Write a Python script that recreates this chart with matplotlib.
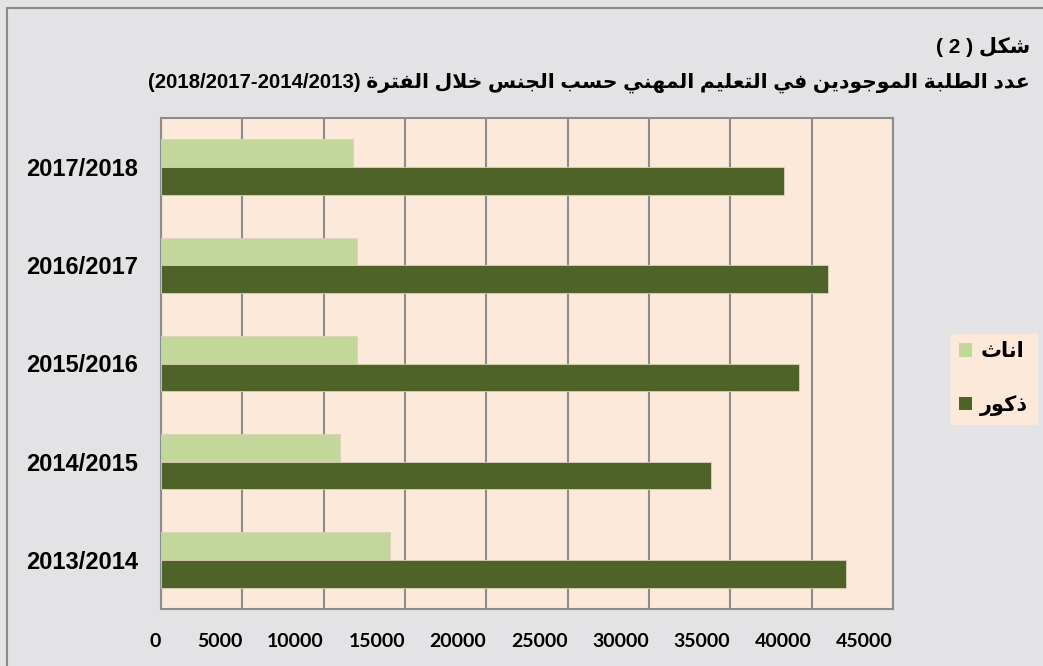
import matplotlib
matplotlib.use("Agg")
import matplotlib.pyplot as plt
from matplotlib.patches import Rectangle
import numpy as np

# ---------------- data ----------------
years = ["2013/2014", "2014/2015", "2015/2016", "2016/2017", "2017/2018"]
males = [42100, 33800, 39200, 41000, 38300]     # ذكور
females = [14050, 11000, 12050, 12050, 11800]   # اناث
xticks = [0, 5000, 10000, 15000, 20000, 25000, 30000, 35000, 40000, 45000]

title1_ar = "شكل"
title1_num = "( 2 )"
title2_ar = "عدد الطلبة الموجودين في التعليم المهني حسب الجنس خلال الفترة"
title2_num = "(2018/2017-2014/2013)"
label_f = "اناث"
label_m = "ذكور"

# ---------------- minimal Arabic shaping (visual order) ----------------
FORMS = {
    '\u0621': ('\uFE80',),
    '\u0622': ('\uFE81', '\uFE82'), '\u0623': ('\uFE83', '\uFE84'),
    '\u0624': ('\uFE85', '\uFE86'), '\u0625': ('\uFE87', '\uFE88'),
    '\u0626': ('\uFE89', '\uFE8A', '\uFE8B', '\uFE8C'),
    '\u0627': ('\uFE8D', '\uFE8E'),
    '\u0628': ('\uFE8F', '\uFE90', '\uFE91', '\uFE92'),
    '\u0629': ('\uFE93', '\uFE94'),
    '\u062A': ('\uFE95', '\uFE96', '\uFE97', '\uFE98'),
    '\u062B': ('\uFE99', '\uFE9A', '\uFE9B', '\uFE9C'),
    '\u062C': ('\uFE9D', '\uFE9E', '\uFE9F', '\uFEA0'),
    '\u062D': ('\uFEA1', '\uFEA2', '\uFEA3', '\uFEA4'),
    '\u062E': ('\uFEA5', '\uFEA6', '\uFEA7', '\uFEA8'),
    '\u062F': ('\uFEA9', '\uFEAA'), '\u0630': ('\uFEAB', '\uFEAC'),
    '\u0631': ('\uFEAD', '\uFEAE'), '\u0632': ('\uFEAF', '\uFEB0'),
    '\u0633': ('\uFEB1', '\uFEB2', '\uFEB3', '\uFEB4'),
    '\u0634': ('\uFEB5', '\uFEB6', '\uFEB7', '\uFEB8'),
    '\u0635': ('\uFEB9', '\uFEBA', '\uFEBB', '\uFEBC'),
    '\u0636': ('\uFEBD', '\uFEBE', '\uFEBF', '\uFEC0'),
    '\u0637': ('\uFEC1', '\uFEC2', '\uFEC3', '\uFEC4'),
    '\u0638': ('\uFEC5', '\uFEC6', '\uFEC7', '\uFEC8'),
    '\u0639': ('\uFEC9', '\uFECA', '\uFECB', '\uFECC'),
    '\u063A': ('\uFECD', '\uFECE', '\uFECF', '\uFED0'),
    '\u0641': ('\uFED1', '\uFED2', '\uFED3', '\uFED4'),
    '\u0642': ('\uFED5', '\uFED6', '\uFED7', '\uFED8'),
    '\u0643': ('\uFED9', '\uFEDA', '\uFEDB', '\uFEDC'),
    '\u0644': ('\uFEDD', '\uFEDE', '\uFEDF', '\uFEE0'),
    '\u0645': ('\uFEE1', '\uFEE2', '\uFEE3', '\uFEE4'),
    '\u0646': ('\uFEE5', '\uFEE6', '\uFEE7', '\uFEE8'),
    '\u0647': ('\uFEE9', '\uFEEA', '\uFEEB', '\uFEEC'),
    '\u0648': ('\uFEED', '\uFEEE'),
    '\u0649': ('\uFEEF', '\uFEF0'),
    '\u064A': ('\uFEF1', '\uFEF2', '\uFEF3', '\uFEF4'),
}
LAMALEF = {'\u0622': ('\uFEF5', '\uFEF6'), '\u0623': ('\uFEF7', '\uFEF8'),
           '\u0625': ('\uFEF9', '\uFEFA'), '\u0627': ('\uFEFB', '\uFEFC')}


def shape(text):
    res = []
    n = len(text)
    i = 0
    while i < n:
        c = text[i]
        prev = text[i - 1] if i > 0 else None
        joins_prev = prev is not None and prev in FORMS and len(FORMS[prev]) == 4
        if c == '\u0644' and i + 1 < n and text[i + 1] in LAMALEF:
            lig = LAMALEF[text[i + 1]]
            res.append(lig[1] if joins_prev else lig[0])
            i += 2
            continue
        if c not in FORMS:
            res.append(c)
            i += 1
            continue
        f = FORMS[c]
        if len(f) == 1:
            res.append(f[0])
            i += 1
            continue
        nxt = text[i + 1] if i + 1 < n else None
        joins_next = len(f) == 4 and nxt is not None and nxt in FORMS
        if joins_prev and joins_next:
            res.append(f[3])
        elif joins_prev:
            res.append(f[1])
        elif joins_next:
            res.append(f[2])
        else:
            res.append(f[0])
        i += 1
    return ''.join(res)


def visual(text):
    return shape(text)[::-1]


# ---------------- figure ----------------
W, H = 1043, 666
fig = plt.figure(figsize=(W / 100, H / 100), dpi=100)
fig.patch.set_facecolor('#e3e3e5')

# outer chart frame (extends past right/bottom edges like the reference crop)
fig.patches.append(Rectangle((7 / W, -0.05), 1.2, 1 - 8 / H + 0.05,
                             transform=fig.transFigure, fill=False,
                             edgecolor='#8a8a8a', linewidth=1.5))

ax = fig.add_axes([161 / W, 1 - 609 / H, (893 - 161) / W, (609 - 118) / H])
ax.set_facecolor('#fde9d9')

y = np.arange(len(years))
h = 0.283
c_f = '#c4d79b'
c_m = '#4f6228'
bf = ax.barh(y + h / 2, females, height=h, color=c_f, edgecolor='#d9d2b8', linewidth=0.6, zorder=3)
bm = ax.barh(y - h / 2, males, height=h, color=c_m, edgecolor='#d9d2b8', linewidth=0.6, zorder=3)

ax.set_xlim(0, 45000)
ax.set_ylim(-0.5, len(years) - 0.5)
ax.set_xticks(xticks)
ax.set_xticklabels([str(t) for t in xticks], fontfamily='Lato', fontweight='bold',
                   fontsize=14, ha='right')
ax.set_yticks(y)
ax.set_yticklabels(years, fontfamily='Liberation Sans', fontweight='bold', fontsize=17)
ax.tick_params(axis='x', length=0, pad=17, colors='black')
ax.tick_params(axis='y', length=0, pad=16.5, colors='black')
ax.grid(axis='x', color='#8c8c8c', linewidth=1.5, zorder=1)
ax.grid(axis='y', visible=False)
for s in ax.spines.values():
    s.set_color('#8c8c8c')
    s.set_linewidth(1.5)

# titles
fam = ['Liberation Sans', 'DejaVu Sans']
fig.text(1030 / W, 1 - 47 / H, title1_num + " " + visual(title1_ar),
         ha='right', va='center', fontsize=15, fontweight='bold', family=fam)
fig.text(1030 / W, 1 - 83 / H, title2_num + " " + visual(title2_ar),
         ha='right', va='center', fontsize=14.7, fontweight='bold', family=fam)

# legend
leg = fig.legend([bf, bm], [visual(label_f), visual(label_m)],
                 loc='upper left', bbox_to_anchor=(951 / W, 1 - 334 / H),
                 frameon=True, fancybox=False, facecolor='#fde9d9', edgecolor='#fde9d9',
                 framealpha=1, prop={'family': fam, 'weight': 'bold', 'size': 15},
                 handlelength=0.6, handleheight=0.6, handletextpad=0.4,
                 labelspacing=1.6, borderpad=0.4, borderaxespad=0)
for p in leg.get_patches():
    p.set_edgecolor('none')

fig.savefig('out.png', dpi=100, facecolor=fig.get_facecolor())
